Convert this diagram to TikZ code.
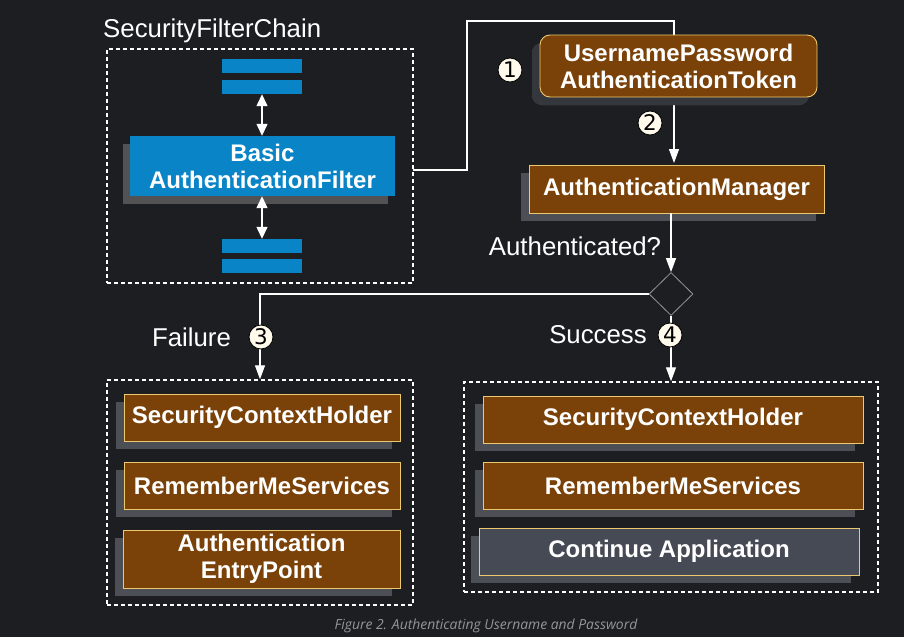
\documentclass[tikz,border=0pt]{standalone}
\usepackage{fontspec}
\setmainfont{Liberation Sans}
\newfontfamily\capfont{Open Sans}
\newfontfamily\numfont{DejaVu Sans}
\usetikzlibrary{shapes.geometric,shadows,arrows.meta}
\definecolor{bgc}{RGB}{28,30,34}
\definecolor{brownf}{RGB}{122,66,8}
\definecolor{goldb}{RGB}{238,200,110}
\definecolor{shd}{RGB}{76,79,85}
\definecolor{shdtok}{RGB}{52,55,60}
\definecolor{bluef}{RGB}{8,132,199}
\definecolor{shdblue}{RGB}{82,82,84}
\definecolor{grayf}{RGB}{70,74,84}
\definecolor{diagray}{RGB}{150,150,150}
\definecolor{capgray}{RGB}{150,150,150}
\definecolor{badgef}{RGB}{255,250,236}
\pgfdeclarelayer{bglayer}
\pgfdeclarelayer{linelayer}
\pgfsetlayers{bglayer,linelayer,main}
\begin{document}
\begin{tikzpicture}[x=1pt,y=-1pt,
  boxfont/.style={font=\fontsize{24}{27}\selectfont\bfseries, text=white, align=center},
  brownbox/.style={boxfont, rectangle, fill=brownf, draw=goldb, line width=0.9pt, inner sep=0pt,
    drop shadow={shadow xshift=-8pt, shadow yshift=-8pt, fill=shd, opacity=1}},
  graybox/.style={brownbox, fill=grayf},
  bluebox/.style={boxfont, rectangle, fill=bluef, inner sep=0pt,
    drop shadow={shadow xshift=-7pt, shadow yshift=-8pt, fill=shdblue, opacity=1}},
  bar/.style={rectangle, fill=bluef, minimum width=80pt, minimum height=14pt, inner sep=0pt},
  groupbox/.style={rectangle, draw=white, line width=1.4pt, dash pattern=on 4pt off 3pt, inner sep=0pt},
  lbl/.style={font=\fontsize{25.8}{30}\selectfont, text=white, inner sep=0pt},
  badge/.style={circle, fill=badgef, draw=black, line width=0.8pt, minimum size=24pt, inner sep=0pt,
    font=\numfont\fontsize{21.5}{21.5}\selectfont, text=black},
  conn/.style={draw=white, line width=1.3pt},
  arr/.style={conn, -{Triangle[length=14pt,width=10pt]}},
  dbl/.style={conn, {Triangle[length=12pt,width=11pt]}-{Triangle[length=12pt,width=11pt]}},
]
\begin{pgfonlayer}{bglayer}
  \fill[bgc] (0,0) rectangle (904,637);
\end{pgfonlayer}
\useasboundingbox (0,0) rectangle (904,637);

% Security filter chain group
\node[lbl, anchor=west] (sfclbl) at (103,31) {SecurityFilterChain};
\node[groupbox, minimum width=306pt, minimum height=234pt] (sfc) at (260,166) {};
\node[bar] (t1) at (262,66) {};
\node[bar] (t2) at (262,87) {};
\node[bluebox, minimum width=265pt, minimum height=60pt] (baf) at (262.5,166) {Basic\\AuthenticationFilter};
\node[bar] (b1) at (262,246) {};
\node[bar] (b2) at (262,266) {};
\draw[dbl] (t2.south) -- (baf.north -| t2.south);
\draw[dbl] (baf.south -| b1.north) -- (b1.north);

% token and manager
\node[brownbox, rounded corners=10pt, minimum width=277pt, minimum height=62pt,
  drop shadow={shadow xshift=-8pt, shadow yshift=-8pt, fill=shdtok, opacity=1}] (tok) at (678.5,66) {UsernamePassword\\AuthenticationToken};
\node[brownbox, minimum width=295pt, minimum height=48pt] (am) at (676.5,189) {AuthenticationManager};
\node[badge] (n1) at (510,70) {1};
\node[badge] (n2) at (650,123) {2};

\coordinate (c0) at (413,170);
\coordinate (c1) at (467,21);
\coordinate (c2) at (674,163);
\begin{pgfonlayer}{linelayer}
  \draw[arr] (c0) -| (c1) -| (c2);
\end{pgfonlayer}

% decision
\node[lbl] (authq) at (575,246) {Authenticated?};
\node[diamond, draw=diagray, fill=bgc, line width=0.8pt, minimum width=44pt, minimum height=43pt, inner sep=0pt] (dia) at (671,294) {};
\draw[arr] (am.south -| dia.north) -- (dia.north);

% failure group
\node[groupbox, minimum width=306pt, minimum height=225pt] (fail) at (260,492.5) {};
\node[brownbox, minimum width=276pt, minimum height=47pt] (fsch) at (262,417.5) {SecurityContextHolder};
\node[brownbox, minimum width=276pt, minimum height=47pt] (frms) at (262,485.5) {RememberMeServices};
\node[brownbox, minimum width=277pt, minimum height=58pt] (faep) at (261.5,559) {Authentication\\EntryPoint};

% success group
\node[groupbox, minimum width=414pt, minimum height=210pt] (succ) at (671,487) {};
\node[brownbox, minimum width=380pt, minimum height=47pt] (ssch) at (673,419.5) {SecurityContextHolder};
\node[brownbox, minimum width=380pt, minimum height=47pt] (srms) at (673,485.5) {RememberMeServices};
\node[graybox, minimum width=380pt, minimum height=47pt] (scont) at (669,551.5) {Continue Application};

\begin{pgfonlayer}{linelayer}
  \draw[arr] (dia.west) -| (fail.north);
  \draw[arr] (dia.south) -- (succ.north);
\end{pgfonlayer}
\node[lbl] (faillbl) at (191.5,337) {Failure};
\node[badge] (n3) at (261,337) {3};
\node[lbl] (succlbl) at (598,335) {Success};
\node[badge] (n4) at (670,335) {4};

\node[font=\capfont\itshape\fontsize{13.9}{16}\selectfont, text=capgray, inner sep=0pt] (cap) at (486,626) {Figure 2. Authenticating Username and Password};
\end{tikzpicture}
\end{document}
